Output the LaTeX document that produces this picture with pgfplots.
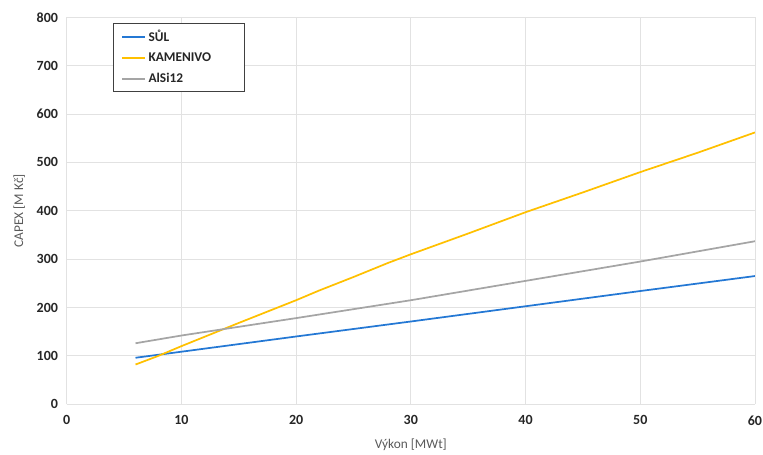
\documentclass[border=0pt]{standalone}
\usepackage{fontspec}
\setmainfont{Carlito}
\usepackage{pgfplots}
\pgfplotsset{compat=1.18}
\definecolor{sulblue}{HTML}{2478D4}
\definecolor{kamyellow}{HTML}{FFC000}
\definecolor{algray}{HTML}{A5A5A5}
\definecolor{gridgray}{HTML}{E2E2E2}
\definecolor{labgray}{HTML}{595959}
\begin{document}
\begin{tikzpicture}
\path[use as bounding box] (-50pt,-37.5pt) rectangle (522pt,303pt);
\begin{axis}[
  scale only axis,
  width=516pt, height=290pt,
  xmin=0, xmax=60, ymin=0, ymax=800,
  xtick={0,10,...,60}, ytick={0,100,...,800},
  grid=major,
  major grid style={gridgray, line width=0.6pt},
  axis line style={gridgray, line width=0.6pt},
  axis x line*=bottom, axis y line*=left,
  tick style={draw=none},
  /pgf/number format/assume math mode=true,
  ticklabel style={font=\fontsize{10.5}{12}\selectfont\bfseries, text=black!85},
  yticklabel style={xshift=-3pt},
  xticklabel style={yshift=-5pt},
  xlabel={Výkon [MWt]}, ylabel={CAPEX [M Kč]},
  label style={font=\fontsize{10}{12}\selectfont, text=labgray},
  xlabel style={yshift=-3pt},
  ylabel style={yshift=2pt},
  legend style={at={(0.067,0.985)}, anchor=north west, draw=black!75, line width=0.5pt,
    font=\fontsize{10}{12}\selectfont\bfseries, text=black!85, row sep=3pt,
    inner xsep=6pt, inner ysep=3pt, text width=64pt},
  legend cell align=left,
  legend image post style={line width=1.5pt},
]
\addplot[sulblue, line width=1.3pt] coordinates {(6,96) (10,108.5) (20,140) (30,171) (40,202.5) (50,234) (60,265)};
\addlegendentry{SŮL}
\addplot[kamyellow, line width=1.3pt] coordinates {(6,82) (8,100) (10,120) (15,168) (20,215) (22,235) (25,263) (28,292) (30,310) (35,353) (40,397) (45,438) (50,480) (55,520) (60,562)};
\addlegendentry{KAMENIVO}
\addplot[algray, line width=1.3pt] coordinates {(6,126) (10,142) (20,178) (30,215) (40,255) (50,295) (60,337)};
\addlegendentry{AlSi12}
\end{axis}
\end{tikzpicture}
\end{document}
